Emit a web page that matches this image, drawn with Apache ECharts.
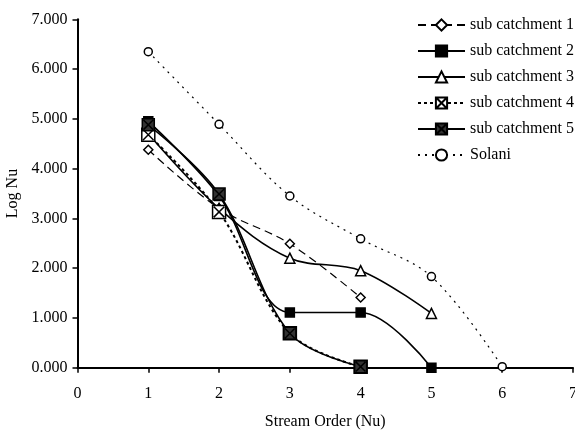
<!DOCTYPE html>
<html>
<head>
<meta charset="utf-8">
<script src="https://cdn.jsdelivr.net/npm/echarts@6/dist/echarts.min.js"></script>
<style>html,body{margin:0;padding:0;background:#fff}#c{width:575px;height:431px}</style>
</head>
<body>
<div id="c"></div>
<script>
const seriesNames = ['sub catchment 1','sub catchment 2','sub catchment 3','sub catchment 4','sub catchment 5','Solani'];
const orders = [1, 2, 3, 4, 5, 6];
const sub1 = [4.38, 3.20, 2.49, 1.41];
const sub2 = [4.95, 3.45, 1.11, 1.11, 0.00];
const sub3 = [4.70, 3.20, 2.20, 1.95, 1.09];
const sub4 = [4.68, 3.13, 0.69, 0.02];
const sub5 = [4.88, 3.49, 0.69, 0.02];
const solani = [6.35, 4.89, 3.45, 2.59, 1.83, 0.02];
const xTicks = [0,1,2,3,4,5,6,7];
const yTicks = [0,1,2,3,4,5,6,7];

const FONT = '"Liberation Serif","Times New Roman",serif';
const pairs = vals => vals.map((v,i)=>[orders[i], v]);
const boxX = 'path://M0,0 L10,0 L10,10 L0,10 Z M1,1 L9,9 M9,1 L1,9';

function mk(name, vals, lineType, width, symbol, size, fill) {
  return {
    name, type:'line', data: pairs(vals), smooth: 0.35,
    symbol, symbolSize: size,
    lineStyle:{color:'#000', width, type: lineType},
    itemStyle:{color: fill, borderColor:'#000', borderWidth:1.5},
    emphasis:{disabled:true}
  };
}

const chart = echarts.init(document.getElementById('c'), null, {renderer:'canvas'});
chart.setOption({
  animation:false,
  backgroundColor:'#fff',
  textStyle:{fontFamily:FONT, color:'#000'},
  grid:{left:77.5, right:2, top:19.3, bottom:63.3, containLabel:false, outerBoundsMode:'none'},
  legend:{
    orient:'vertical', left:412, top:12, itemWidth:47, itemHeight:14, itemGap:10,
    textStyle:{fontFamily:FONT, fontSize:16, color:'#000'},
    data: seriesNames
  },
  xAxis:{
    type:'value', min:xTicks[0], max:xTicks[xTicks.length-1], interval:1,
    name:'Stream Order (Nu)', nameLocation:'middle', nameGap:46,
    nameTextStyle:{fontFamily:FONT, fontSize:16, color:'#000'},
    axisLine:{lineStyle:{color:'#000', width:2}},
    axisTick:{show:true, length:5, lineStyle:{color:'#000', width:1.5}},
    axisLabel:{fontFamily:FONT, fontSize:16, color:'#000', margin:18, showMaxLabel:true},
    splitLine:{show:false}
  },
  yAxis:{
    type:'value', min:yTicks[0], max:yTicks[yTicks.length-1], interval:1,
    name:'Log Nu', nameLocation:'middle', nameGap:48, nameRotate:90,
    nameTextStyle:{fontFamily:FONT, fontSize:16, color:'#000'},
    axisLine:{show:true, lineStyle:{color:'#000', width:2}},
    axisTick:{show:true, length:5, lineStyle:{color:'#000', width:1.5}},
    axisLabel:{fontFamily:FONT, fontSize:16, color:'#000', margin:10, formatter: v => v.toFixed(3)},
    splitLine:{show:false}
  },
  series:[
    mk(seriesNames[0], sub1, [8,5], 1.2, 'diamond', 9, '#fff'),
    mk(seriesNames[1], sub2, 'solid', 1.6, 'rect', 9, '#000'),
    mk(seriesNames[2], sub3, 'solid', 1.6, 'triangle', 10, '#fff'),
    mk(seriesNames[3], sub4, [3,3], 2, boxX, 13, '#fff'),
    mk(seriesNames[4], sub5, 'solid', 1.6, boxX, 12, '#333'),
    mk(seriesNames[5], solani, [2,5], 1.2, 'circle', 8, '#fff')
  ]
});
</script>
</body>
</html>
